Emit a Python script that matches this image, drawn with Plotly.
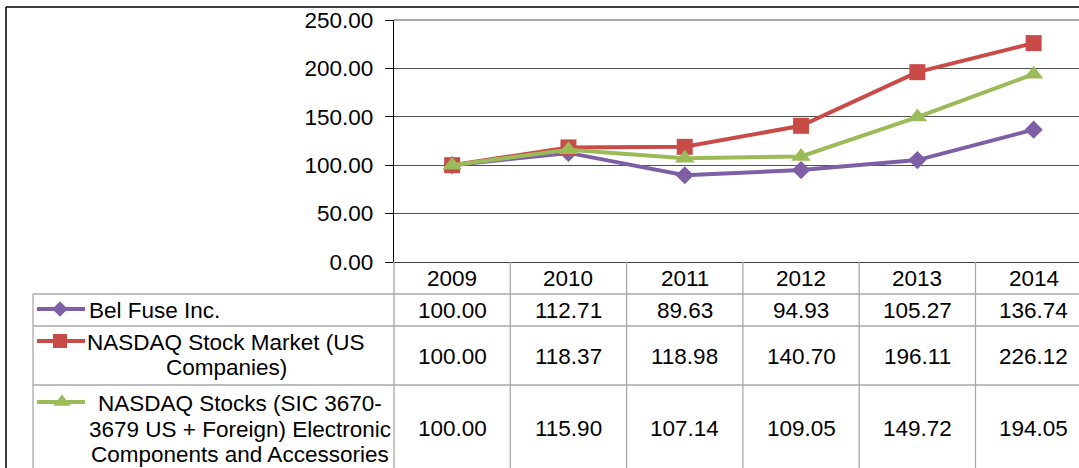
import plotly.graph_objects as go

years = ["2009", "2010", "2011", "2012", "2013", "2014"]
series_names = [
    "Bel Fuse Inc.",
    "NASDAQ Stock Market (US<br>Companies)",
    "NASDAQ Stocks (SIC 3670-<br>3679 US + Foreign) Electronic<br>Components and Accessories",
]
bel_fuse = [100.00, 112.71, 89.63, 94.93, 105.27, 136.74]
nasdaq_market = [100.00, 118.37, 118.98, 140.70, 196.11, 226.12]
nasdaq_electronic = [100.00, 115.90, 107.14, 109.05, 149.72, 194.05]
y_ticks = [0, 50, 100, 150, 200, 250]

W, H = 1079, 468
FONT = "Liberation Sans, Arial, sans-serif"
FS = 22.5

colors = ["#7E5FA6", "#C84B48", "#9BBB59"]
symbols = ["diamond", "square", "triangle-up"]
msizes = [14, 16, 17]
all_series = [bel_fuse, nasdaq_market, nasdaq_electronic]

# layout geometry (pixels)
AX_L = 394
COL_W = 116.3
Y_TOP, Y_ZERO = 20, 262
ROW_LINES = [294, 326, 385]
LABEL_L = 33
LINE_GAP = 25.5

def px(x):
    return x / W

def py(y):
    return 1 - y / H

fig = go.Figure()

for name, vals, c, s, ms in zip(series_names, all_series, colors, symbols, msizes):
    fig.add_trace(go.Scatter(
        x=list(range(len(years))), y=vals, mode="lines+markers",
        line=dict(color=c, width=4),
        marker=dict(symbol=s, size=ms, color=c),
        name=name, showlegend=False, xaxis="x", yaxis="y", cliponaxis=False,
    ))

ncols_visible = (W - AX_L) / COL_W

shapes = []
annotations = []
gray = "#a8a8a8"

# outer border
shapes.append(dict(type="line", xref="paper", yref="paper", x0=px(6), x1=1, y0=py(7), y1=py(7),
                   line=dict(color="black", width=1.5)))
shapes.append(dict(type="line", xref="paper", yref="paper", x0=px(6), x1=px(6), y0=py(7), y1=0,
                   line=dict(color="black", width=1.5)))
# lighter top gridline (plot-area top edge)
shapes.append(dict(type="line", xref="paper", yref="paper", x0=px(AX_L), x1=1, y0=py(Y_TOP), y1=py(Y_TOP),
                   line=dict(color="#8a8a8a", width=1.5)))

# table horizontal lines
for yl in ROW_LINES:
    shapes.append(dict(type="line", xref="paper", yref="paper", x0=px(LABEL_L), x1=1, y0=py(yl), y1=py(yl),
                       line=dict(color=gray, width=1.3)))
# label column left
shapes.append(dict(type="line", xref="paper", yref="paper", x0=px(LABEL_L), x1=px(LABEL_L),
                   y0=py(ROW_LINES[0]), y1=0, line=dict(color=gray, width=1.3)))
# year column lines
for k in range(len(years) + 1):
    xl = AX_L + k * COL_W
    if xl > W:
        continue
    shapes.append(dict(type="line", xref="paper", yref="paper", x0=px(xl), x1=px(xl),
                       y0=py(Y_ZERO), y1=0, line=dict(color=gray, width=1.3)))

def txt(x, y, s, anchor="center"):
    annotations.append(dict(x=px(x), y=py(y), xref="paper", yref="paper", text=s,
                            showarrow=False, xanchor=anchor, yanchor="middle",
                            font=dict(family=FONT, size=FS, color="black")))

# header years
for k, yr in enumerate(years):
    txt(AX_L + (k + 0.5) * COL_W, 278, yr)

row_centers = [310, 356, 428]
for r, vals in enumerate(all_series):
    for k, v in enumerate(vals):
        txt(AX_L + (k + 0.5) * COL_W, row_centers[r], f"{v:.2f}")

# row labels (one annotation per line for tight line spacing)
txt(87, 310, series_names[0], anchor="left")
label_cx = [None, 226, 240]
label_cy = [None, 355, 429]
for r in (1, 2):
    lines = series_names[r].split("<br>")
    n = len(lines)
    for i, ln in enumerate(lines):
        txt(label_cx[r], label_cy[r] + (i - (n - 1) / 2) * LINE_GAP, ln)

# legend keys in table
key_y = [309, 341, 402]
key_mx = [60, 60, 62]
for c, s, ms, ky, mx in zip(colors, symbols, msizes, key_y, key_mx):
    fig.add_trace(go.Scatter(x=[37, 85], y=[ky, ky], mode="lines", line=dict(color=c, width=4),
                             xaxis="x2", yaxis="y2", showlegend=False, hoverinfo="skip"))
    fig.add_trace(go.Scatter(x=[mx], y=[ky], mode="markers", marker=dict(symbol=s, size=ms - 2, color=c),
                             xaxis="x2", yaxis="y2", showlegend=False, hoverinfo="skip"))

fig.update_layout(
    width=W, height=H,
    margin=dict(l=0, r=0, t=0, b=0, autoexpand=False),
    paper_bgcolor="white",
    plot_bgcolor="rgba(0,0,0,0)",
    font=dict(family=FONT, size=FS, color="black"),
    xaxis=dict(domain=[px(AX_L), 1], range=[-0.5, -0.5 + ncols_visible],
               showgrid=False, zeroline=False, showticklabels=False, ticks="",
               showline=True, linecolor="#404040", linewidth=1, anchor="y", automargin=False),
    yaxis=dict(domain=[py(Y_ZERO), py(Y_TOP)], range=[0, 250],
               tickvals=y_ticks, ticktext=[f"{t:.2f}" for t in y_ticks],
               showgrid=True, gridcolor="#505050", gridwidth=1, zeroline=False,
               showline=True, linecolor="black", linewidth=1.3,
               ticks="outside", ticklen=8, tickcolor="black", tickwidth=1,
               ticklabelstandoff=7, automargin=False,
               tickfont=dict(family=FONT, size=FS, color="black"), anchor="x"),
    xaxis2=dict(domain=[0, 1], range=[0, W], visible=False, anchor="y2", fixedrange=True, automargin=False),
    yaxis2=dict(domain=[0, 1], range=[H, 0], visible=False, anchor="x2", fixedrange=True, automargin=False),
    shapes=shapes,
    annotations=annotations,
)

fig.write_html("out.html")
